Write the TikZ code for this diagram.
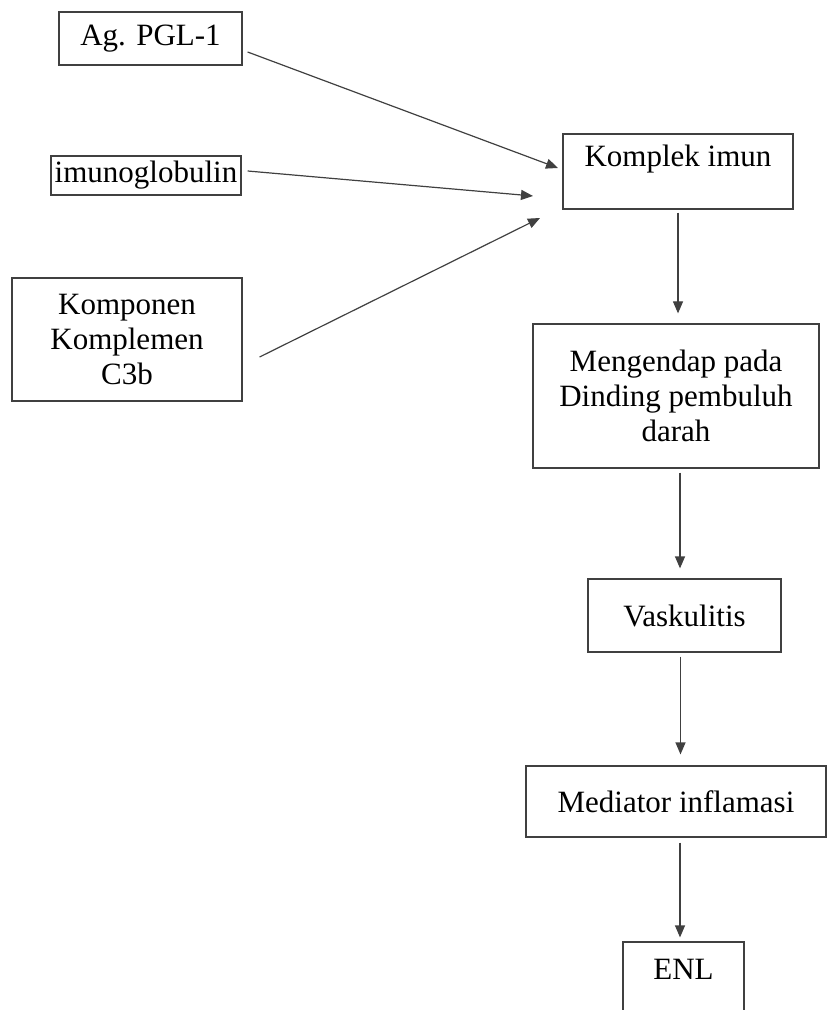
\documentclass[tikz,border=0pt]{standalone}
\usepackage{fontspec}
\setmainfont{Liberation Serif}
\usepackage{tikz}
\usetikzlibrary{arrows.meta}

\begin{document}
\begin{tikzpicture}[x=0.5pt, y=-0.5pt]
\tikzstyle{box} = [rectangle, draw=black!75, line width=0.6pt, inner sep=0pt, align=center, font=\fontsize{15.5}{17.5}\selectfont]
\tikzstyle{arrow} = [draw=black!75, line width=0.6pt, -{Triangle[length=6pt,width=5pt]}]

\clip (0,0) rectangle (828,1010);
\useasboundingbox (0,0) rectangle (828,1010);

\node (ag) [box, minimum width=91.5pt, minimum height=26.5pt] at (150.5,38.5) {Ag. PGL-1};
\node (imuno) [box, minimum width=95pt, minimum height=19.5pt] at (146,175.5) {imunoglobulin};
\node (komp) [box, minimum width=115pt, minimum height=61.5pt] at (127,339.5) {Komponen\\Komplemen\\C3b};
\node (komplek) [box, minimum width=115pt, minimum height=37.5pt, text height=12pt, text depth=17pt] at (678,171.5) {Komplek imun};
\node (endap) [box, minimum width=143pt, minimum height=72pt] at (676,396) {Mengendap pada\\Dinding pembuluh\\darah};
\node (vask) [box, minimum width=96.5pt, minimum height=36.5pt] at (684.5,615.5) {Vaskulitis};
\node (mediator) [box, minimum width=150pt, minimum height=35.5pt] at (676,801.5) {Mediator inflamasi};
\node (enl) [box, minimum width=60.5pt, minimum height=49pt, text depth=22pt] at (683.5,991) {ENL};

\coordinate (tip1) at (558,168);
\coordinate (tip2) at (533,196);
\coordinate (tip3) at (540,218);

\draw [arrow] ([xshift=2.5pt,yshift=-6.75pt]ag.east) -- (tip1);
\draw [arrow] ([xshift=3pt,yshift=2.25pt]imuno.east) -- (tip2);
\draw [arrow] ([xshift=8.5pt,yshift=-8.75pt]komp.east) -- (tip3);

\draw [arrow, shorten <=1.5pt, shorten >=5pt] (komplek.south) -- (komplek.south |- endap.north);
\draw [arrow, shorten <=2pt, shorten >=5pt] ([xshift=2pt]endap.south) -- ([xshift=2pt]endap.south |- vask.north);
\draw [arrow, shorten <=2pt, shorten >=5.5pt] ([xshift=-2pt]vask.south) -- ([xshift=-2pt]vask.south |- mediator.north);
\draw [arrow, shorten <=2.5pt, shorten >=2pt] ([xshift=2pt]mediator.south) -- ([xshift=2pt]mediator.south |- enl.north);
\end{tikzpicture}
\end{document}
